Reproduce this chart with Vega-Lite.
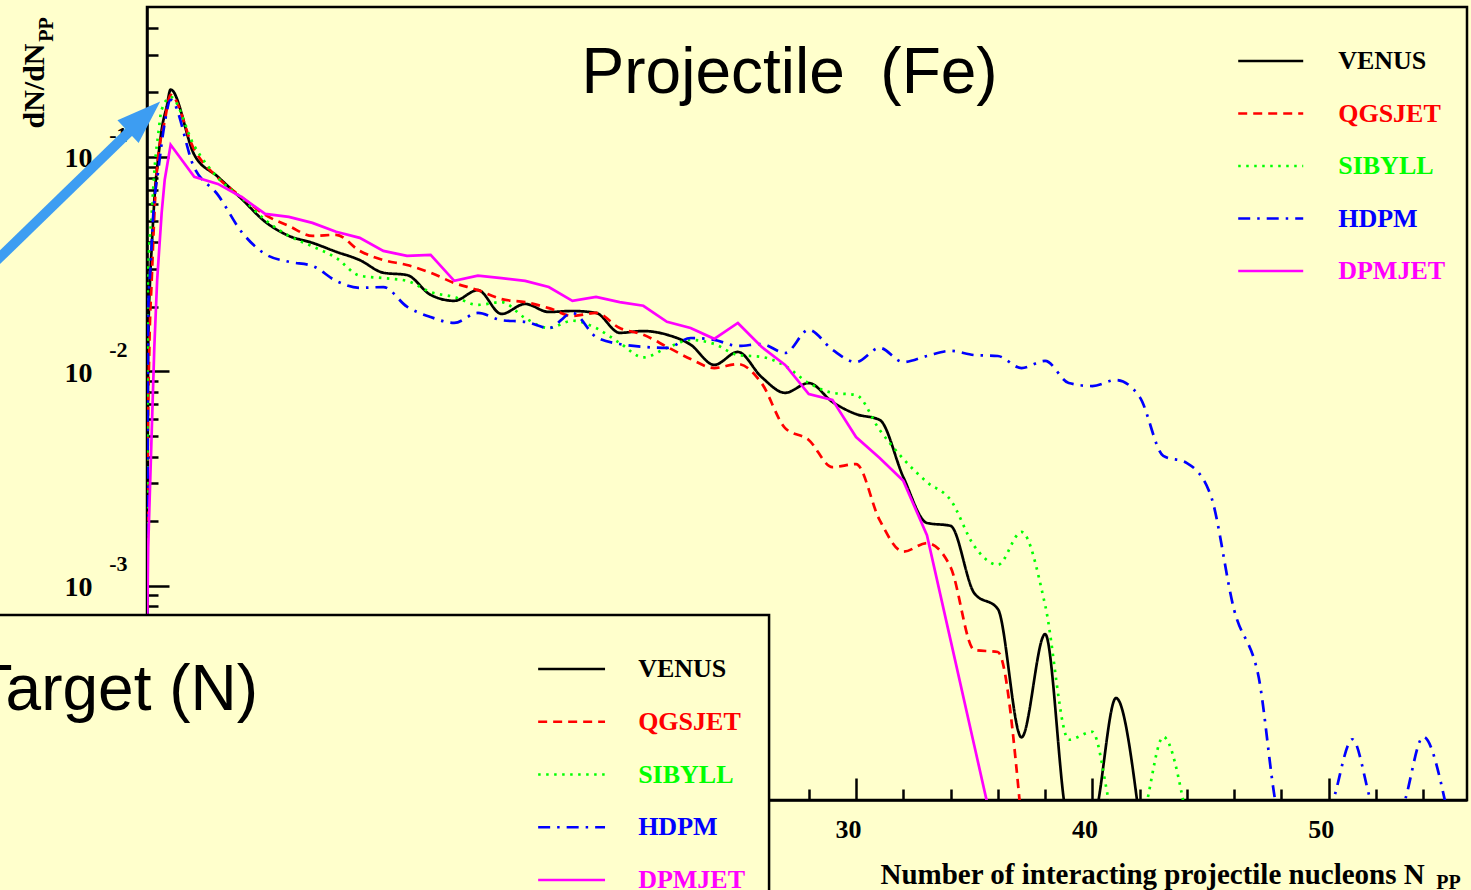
{
  "$schema": "https://vega.github.io/schema/vega-lite/v6.json",
  "width": 1320,
  "height": 793,
  "autosize": {"type": "none"},
  "padding": {"left": 147, "top": 7, "right": 4, "bottom": 90},
  "background": "#FFFFCC",
  "config": {"view": {"stroke": "#000000", "strokeWidth": 2.5, "fill": "#FFFFCC"}, "axis": {"grid": false}},
  "datasets": {
    "curves": [
      {"model":"VENUS","N":0,"value":0.00008},{"model":"VENUS","N":0.05,"value":0.013},{"model":"VENUS","N":0.13,"value":0.0267},{"model":"VENUS","N":0.2,"value":0.038},{"model":"VENUS","N":0.34,"value":0.0702},{"model":"VENUS","N":0.48,"value":0.1},{"model":"VENUS","N":0.62,"value":0.1337},{"model":"VENUS","N":0.83,"value":0.171},{"model":"VENUS","N":1,"value":0.206},{"model":"VENUS","N":2,"value":0.1023},{"model":"VENUS","N":3,"value":0.0807},{"model":"VENUS","N":4,"value":0.0637},{"model":"VENUS","N":5,"value":0.0498},{"model":"VENUS","N":6,"value":0.0428},{"model":"VENUS","N":7,"value":0.0397},{"model":"VENUS","N":8,"value":0.0361},{"model":"VENUS","N":9,"value":0.033},{"model":"VENUS","N":10,"value":0.0288},{"model":"VENUS","N":11,"value":0.0281},{"model":"VENUS","N":12,"value":0.0227},{"model":"VENUS","N":13,"value":0.0213},{"model":"VENUS","N":14,"value":0.0239},{"model":"VENUS","N":15,"value":0.0185},{"model":"VENUS","N":16,"value":0.0206},{"model":"VENUS","N":17,"value":0.0189},{"model":"VENUS","N":18,"value":0.0191},{"model":"VENUS","N":19,"value":0.0187},{"model":"VENUS","N":20,"value":0.0151},{"model":"VENUS","N":21,"value":0.0154},{"model":"VENUS","N":22,"value":0.0148},{"model":"VENUS","N":23,"value":0.0133},{"model":"VENUS","N":24,"value":0.0107},{"model":"VENUS","N":25,"value":0.0123},{"model":"VENUS","N":26,"value":0.0094},{"model":"VENUS","N":27,"value":0.00793},{"model":"VENUS","N":28,"value":0.00881},{"model":"VENUS","N":29,"value":0.00719},{"model":"VENUS","N":30,"value":0.00631},{"model":"VENUS","N":31,"value":0.00593},{"model":"VENUS","N":32,"value":0.00321},{"model":"VENUS","N":33,"value":0.00196},{"model":"VENUS","N":34,"value":0.0019},{"model":"VENUS","N":35,"value":0.000923},{"model":"VENUS","N":36,"value":0.000778},{"model":"VENUS","N":37,"value":0.000196},{"model":"VENUS","N":38,"value":0.000594},{"model":"VENUS","N":39,"value":0.00008},{"model":"VENUS","N":40,"value":0.00008},{"model":"VENUS","N":41,"value":0.000299},{"model":"VENUS","N":42,"value":0.00008},
      {"model":"QGSJET","N":0,"value":0.00008},{"model":"QGSJET","N":0.02,"value":0.00311},{"model":"QGSJET","N":0.1,"value":0.013},{"model":"QGSJET","N":0.2,"value":0.0267},{"model":"QGSJET","N":0.41,"value":0.0841},{"model":"QGSJET","N":0.76,"value":0.149},{"model":"QGSJET","N":1,"value":0.1945},{"model":"QGSJET","N":2,"value":0.108},{"model":"QGSJET","N":3,"value":0.0798},{"model":"QGSJET","N":4,"value":0.065},{"model":"QGSJET","N":5,"value":0.0536},{"model":"QGSJET","N":6,"value":0.0476},{"model":"QGSJET","N":7,"value":0.0428},{"model":"QGSJET","N":8,"value":0.0433},{"model":"QGSJET","N":9,"value":0.0364},{"model":"QGSJET","N":10,"value":0.033},{"model":"QGSJET","N":11,"value":0.0313},{"model":"QGSJET","N":12,"value":0.0288},{"model":"QGSJET","N":13,"value":0.0258},{"model":"QGSJET","N":14,"value":0.0239},{"model":"QGSJET","N":15,"value":0.0217},{"model":"QGSJET","N":16,"value":0.021},{"model":"QGSJET","N":17,"value":0.0197},{"model":"QGSJET","N":18,"value":0.0181},{"model":"QGSJET","N":19,"value":0.0187},{"model":"QGSJET","N":20,"value":0.0159},{"model":"QGSJET","N":21,"value":0.0148},{"model":"QGSJET","N":22,"value":0.013},{"model":"QGSJET","N":23,"value":0.0114},{"model":"QGSJET","N":24,"value":0.01035},{"model":"QGSJET","N":25,"value":0.0108},{"model":"QGSJET","N":26,"value":0.00881},{"model":"QGSJET","N":27,"value":0.00543},{"model":"QGSJET","N":28,"value":0.00478},{"model":"QGSJET","N":29,"value":0.00357},{"model":"QGSJET","N":30,"value":0.00369},{"model":"QGSJET","N":31,"value":0.00202},{"model":"QGSJET","N":32,"value":0.00144},{"model":"QGSJET","N":33,"value":0.00158},{"model":"QGSJET","N":34,"value":0.00122},{"model":"QGSJET","N":35,"value":0.000501},{"model":"QGSJET","N":36,"value":0.00049},{"model":"QGSJET","N":37,"value":0.00008},
      {"model":"SIBYLL","N":0,"value":0.00008},{"model":"SIBYLL","N":0.04,"value":0.0267},{"model":"SIBYLL","N":0.2,"value":0.0548},{"model":"SIBYLL","N":0.34,"value":0.0937},{"model":"SIBYLL","N":0.48,"value":0.129},{"model":"SIBYLL","N":0.62,"value":0.166},{"model":"SIBYLL","N":1,"value":0.19},{"model":"SIBYLL","N":2,"value":0.1125},{"model":"SIBYLL","N":3,"value":0.0798},{"model":"SIBYLL","N":4,"value":0.0644},{"model":"SIBYLL","N":5,"value":0.0508},{"model":"SIBYLL","N":6,"value":0.0428},{"model":"SIBYLL","N":7,"value":0.0382},{"model":"SIBYLL","N":8,"value":0.0338},{"model":"SIBYLL","N":9,"value":0.0279},{"model":"SIBYLL","N":10,"value":0.0272},{"model":"SIBYLL","N":11,"value":0.0264},{"model":"SIBYLL","N":12,"value":0.0234},{"model":"SIBYLL","N":13,"value":0.0222},{"model":"SIBYLL","N":14,"value":0.0204},{"model":"SIBYLL","N":15,"value":0.021},{"model":"SIBYLL","N":16,"value":0.0177},{"model":"SIBYLL","N":17,"value":0.0159},{"model":"SIBYLL","N":18,"value":0.0172},{"model":"SIBYLL","N":19,"value":0.0159},{"model":"SIBYLL","N":20,"value":0.01355},{"model":"SIBYLL","N":21,"value":0.0116},{"model":"SIBYLL","N":22,"value":0.01285},{"model":"SIBYLL","N":23,"value":0.014},{"model":"SIBYLL","N":24,"value":0.0134},{"model":"SIBYLL","N":25,"value":0.0119},{"model":"SIBYLL","N":26,"value":0.01167},{"model":"SIBYLL","N":27,"value":0.01059},{"model":"SIBYLL","N":28,"value":0.00881},{"model":"SIBYLL","N":29,"value":0.00793},{"model":"SIBYLL","N":30,"value":0.00775},{"model":"SIBYLL","N":31,"value":0.00532},{"model":"SIBYLL","N":32,"value":0.0039},{"model":"SIBYLL","N":33,"value":0.00304},{"model":"SIBYLL","N":34,"value":0.00251},{"model":"SIBYLL","N":35,"value":0.00153},{"model":"SIBYLL","N":36,"value":0.00125},{"model":"SIBYLL","N":37,"value":0.00178},{"model":"SIBYLL","N":38,"value":0.000813},{"model":"SIBYLL","N":39,"value":0.000191},{"model":"SIBYLL","N":40,"value":0.000208},{"model":"SIBYLL","N":41,"value":0.00008},{"model":"SIBYLL","N":42,"value":0.00008},{"model":"SIBYLL","N":43,"value":0.000197},{"model":"SIBYLL","N":44,"value":0.00008},
      {"model":"HDPM","N":0,"value":0.00008},{"model":"HDPM","N":0.05,"value":0.0193},{"model":"HDPM","N":0.15,"value":0.0307},{"model":"HDPM","N":0.27,"value":0.0548},{"model":"HDPM","N":0.48,"value":0.0869},{"model":"HDPM","N":0.75,"value":0.144},{"model":"HDPM","N":1,"value":0.1845},{"model":"HDPM","N":2,"value":0.0889},{"model":"HDPM","N":3,"value":0.0665},{"model":"HDPM","N":4,"value":0.0447},{"model":"HDPM","N":5,"value":0.0352},{"model":"HDPM","N":6,"value":0.0324},{"model":"HDPM","N":7,"value":0.031},{"model":"HDPM","N":8,"value":0.0264},{"model":"HDPM","N":9,"value":0.0245},{"model":"HDPM","N":10,"value":0.0247},{"model":"HDPM","N":11,"value":0.02},{"model":"HDPM","N":12,"value":0.0179},{"model":"HDPM","N":13,"value":0.0168},{"model":"HDPM","N":14,"value":0.0187},{"model":"HDPM","N":15,"value":0.0173},{"model":"HDPM","N":16,"value":0.017},{"model":"HDPM","N":17,"value":0.0159},{"model":"HDPM","N":18,"value":0.0187},{"model":"HDPM","N":19,"value":0.01445},{"model":"HDPM","N":20,"value":0.0134},{"model":"HDPM","N":21,"value":0.013},{"model":"HDPM","N":22,"value":0.01285},{"model":"HDPM","N":23,"value":0.01429},{"model":"HDPM","N":24,"value":0.014},{"model":"HDPM","N":25,"value":0.01312},{"model":"HDPM","N":26,"value":0.0134},{"model":"HDPM","N":27,"value":0.01216},{"model":"HDPM","N":28,"value":0.0156},{"model":"HDPM","N":29,"value":0.0126},{"model":"HDPM","N":30,"value":0.01104},{"model":"HDPM","N":31,"value":0.01285},{"model":"HDPM","N":32,"value":0.01104},{"model":"HDPM","N":33,"value":0.01178},{"model":"HDPM","N":34,"value":0.01245},{"model":"HDPM","N":35,"value":0.0119},{"model":"HDPM","N":36,"value":0.01178},{"model":"HDPM","N":37,"value":0.01035},{"model":"HDPM","N":38,"value":0.01117},{"model":"HDPM","N":39,"value":0.00881},{"model":"HDPM","N":40,"value":0.00853},{"model":"HDPM","N":41,"value":0.0091},{"model":"HDPM","N":42,"value":0.00759},{"model":"HDPM","N":43,"value":0.00403},{"model":"HDPM","N":44,"value":0.00373},{"model":"HDPM","N":45,"value":0.00265},{"model":"HDPM","N":46,"value":0.000769},{"model":"HDPM","N":47,"value":0.000391},{"model":"HDPM","N":48,"value":0.00008},{"model":"HDPM","N":49,"value":0.00008},{"model":"HDPM","N":50,"value":0.00009},{"model":"HDPM","N":51,"value":0.000192},{"model":"HDPM","N":52,"value":0.00009},{"model":"HDPM","N":53,"value":0.00009},{"model":"HDPM","N":54,"value":0.000197},{"model":"HDPM","N":55,"value":0.00009},
      {"model":"DPMJET","N":0,"value":0.000557},{"model":"DPMJET","N":0.05,"value":0.00151},{"model":"DPMJET","N":0.18,"value":0.00444},{"model":"DPMJET","N":0.31,"value":0.013},{"model":"DPMJET","N":0.43,"value":0.0267},{"model":"DPMJET","N":0.62,"value":0.0548},{"model":"DPMJET","N":0.75,"value":0.0782},{"model":"DPMJET","N":1,"value":0.1138},{"model":"DPMJET","N":2,"value":0.0807},{"model":"DPMJET","N":3,"value":0.0748},{"model":"DPMJET","N":4,"value":0.065},{"model":"DPMJET","N":5,"value":0.0542},{"model":"DPMJET","N":6,"value":0.0525},{"model":"DPMJET","N":7,"value":0.0492},{"model":"DPMJET","N":8,"value":0.0447},{"model":"DPMJET","N":9,"value":0.0419},{"model":"DPMJET","N":10,"value":0.0364},{"model":"DPMJET","N":11,"value":0.0345},{"model":"DPMJET","N":12,"value":0.0349},{"model":"DPMJET","N":13,"value":0.0264},{"model":"DPMJET","N":14,"value":0.0279},{"model":"DPMJET","N":15,"value":0.0272},{"model":"DPMJET","N":16,"value":0.0264},{"model":"DPMJET","N":17,"value":0.0247},{"model":"DPMJET","N":18,"value":0.0213},{"model":"DPMJET","N":19,"value":0.0222},{"model":"DPMJET","N":20,"value":0.021},{"model":"DPMJET","N":21,"value":0.0202},{"model":"DPMJET","N":22,"value":0.017},{"model":"DPMJET","N":23,"value":0.0159},{"model":"DPMJET","N":24,"value":0.01416},{"model":"DPMJET","N":25,"value":0.0168},{"model":"DPMJET","N":26,"value":0.013},{"model":"DPMJET","N":27,"value":0.0107},{"model":"DPMJET","N":28,"value":0.00783},{"model":"DPMJET","N":29,"value":0.00735},{"model":"DPMJET","N":30,"value":0.00493},{"model":"DPMJET","N":31,"value":0.00394},{"model":"DPMJET","N":32,"value":0.00308},{"model":"DPMJET","N":33,"value":0.00172},{"model":"DPMJET","N":34,"value":0.000557},{"model":"DPMJET","N":35,"value":0.00018},{"model":"DPMJET","N":36,"value":0.0000583}
    ],
    "legend": [{"model":"VENUS"},{"model":"QGSJET"},{"model":"SIBYLL"},{"model":"HDPM"},{"model":"DPMJET"}]
  },
  "layer": [
    {
      "data": {"name": "curves"},
      "transform": [{"filter": "datum.model != 'DPMJET'"}],
      "mark": {"type": "line", "interpolate": "monotone", "clip": true, "strokeWidth": 2.7},
      "encoding": {
        "x": {"field": "N", "type": "quantitative", "scale": {"domain": [0, 55.85], "nice": false, "zero": false},
          "axis": {"orient": "bottom", "values": [0, 10, 20, 30, 40, 50], "tickSize": -22, "tickWidth": 2.5, "tickColor": "#000000", "domainColor": "#000000", "domainWidth": 2.5, "labelFont": "Liberation Serif", "labelFontWeight": "bold", "labelFontSize": 26, "labelColor": "#000000", "labelPadding": 51, "labelOffset": -8, "labelAlign": "center", "labelBaseline": "middle", "labelFlush": false, "labelOverlap": false, "title": "Number of interacting projectile nucleons N", "titleFont": "Liberation Serif", "titleFontWeight": "bold", "titleFontSize": 29, "titleColor": "#000000", "titleX": 733, "titleY": 83, "titleAlign": "left", "titleBaseline": "alphabetic", "grid": false}},
        "y": {"field": "value", "type": "quantitative", "scale": {"type": "log", "domain": [0.0001, 0.5], "nice": false},
          "axis": {"orient": "left", "values": [0.001, 0.01, 0.1], "labelExpr": "'10'", "tickSize": -22, "tickWidth": 2.5, "tickColor": "#000000", "domainColor": "#000000", "domainWidth": 2.5, "labelFont": "Liberation Serif", "labelFontWeight": "bold", "labelFontSize": 28, "labelColor": "#000000", "labelPadding": 77, "labelOffset": 2, "labelAlign": "right", "labelBaseline": "middle", "labelOverlap": false, "labelFlush": false, "title": "dN/dN", "titleFont": "Liberation Serif", "titleFontWeight": "bold", "titleFontSize": 30, "titleColor": "#000000", "titleAngle": 270, "titleX": -104, "titleY": 121, "titleAlign": "left", "titleBaseline": "alphabetic", "grid": false}},
        "color": {"field": "model", "type": "nominal", "scale": {"domain": ["VENUS", "QGSJET", "SIBYLL", "HDPM", "DPMJET"], "range": ["#000000", "#FF0000", "#00FF00", "#0000FF", "#FF00FF"]}, "legend": null},
        "strokeDash": {"field": "model", "type": "nominal", "scale": {"domain": ["VENUS", "QGSJET", "SIBYLL", "HDPM", "DPMJET"], "range": [[1, 0], [9, 6], [2.5, 5.5], [12, 7, 2.5, 7], [1, 0]]}, "legend": null}
      }
    },
    {
      "data": {"name": "curves"},
      "transform": [{"filter": "datum.model == 'DPMJET'"}],
      "mark": {"type": "line", "interpolate": "linear", "clip": true, "strokeWidth": 2.7},
      "encoding": {
        "x": {"field": "N", "type": "quantitative", "scale": {"domain": [0, 55.85], "nice": false, "zero": false},
          "axis": {"orient": "bottom", "values": [2, 4, 6, 8, 12, 14, 16, 18, 22, 24, 26, 28, 32, 34, 36, 38, 42, 44, 46, 48, 52, 54], "tickSize": -11, "tickWidth": 2.5, "tickColor": "#000000", "labels": false, "domain": false, "title": null, "grid": false}},
        "y": {"field": "value", "type": "quantitative", "scale": {"type": "log", "domain": [0.0001, 0.5], "nice": false},
          "axis": {"orient": "left", "values": [0.0002, 0.0003, 0.0004, 0.0005, 0.0006, 0.0007, 0.0008, 0.0009, 0.002, 0.003, 0.004, 0.005, 0.006, 0.007, 0.008, 0.009, 0.02, 0.03, 0.04, 0.05, 0.06, 0.07, 0.08, 0.09, 0.2, 0.3, 0.4], "tickSize": -11, "tickWidth": 2.5, "tickColor": "#000000", "labels": false, "domain": false, "title": null, "grid": false}},
        "color": {"field": "model", "type": "nominal", "scale": {"domain": ["VENUS", "QGSJET", "SIBYLL", "HDPM", "DPMJET"], "range": ["#000000", "#FF0000", "#00FF00", "#0000FF", "#FF00FF"]}, "legend": null}
      }
    },
    {
      "data": {"values": [{}]},
      "mark": {"type": "rect", "fill": "#FFFFCC", "stroke": "#000000", "strokeWidth": 2.5, "clip": false},
      "encoding": {
        "x": {"datum": -6.5, "scale": {"domain": [0, 55.85], "nice": false, "zero": false}, "axis": null},
        "x2": {"datum": 26.32},
        "y": {"datum": 0.000729, "scale": {"type": "log", "domain": [0.0001, 0.5], "nice": false}, "axis": null},
        "y2": {"datum": 0.00003}
      }
    },
    {
      "data": {"name": "legend"},
      "mark": {"type": "rule", "strokeWidth": 2.7},
      "encoding": {
        "x": {"datum": 46.17, "scale": {"domain": [0, 55.85], "nice": false, "zero": false}, "axis": null},
        "x2": {"datum": 48.92},
        "y": {"field": "model", "type": "nominal", "scale": {"type": "point", "domain": ["VENUS", "QGSJET", "SIBYLL", "HDPM", "DPMJET"], "range": [54, 264], "padding": 0}, "axis": null},
        "color": {"field": "model", "type": "nominal", "scale": {"domain": ["VENUS", "QGSJET", "SIBYLL", "HDPM", "DPMJET"], "range": ["#000000", "#FF0000", "#00FF00", "#0000FF", "#FF00FF"]}, "legend": null},
        "strokeDash": {"field": "model", "type": "nominal", "scale": {"domain": ["VENUS", "QGSJET", "SIBYLL", "HDPM", "DPMJET"], "range": [[1, 0], [9, 6], [2.5, 5.5], [12, 7, 2.5, 7], [1, 0]]}, "legend": null}
      }
    },
    {
      "data": {"name": "legend"},
      "mark": {"type": "text", "align": "left", "baseline": "middle", "font": "Liberation Serif", "fontWeight": "bold", "fontSize": 26},
      "encoding": {
        "x": {"datum": 50.4, "scale": {"domain": [0, 55.85], "nice": false, "zero": false}, "axis": null},
        "y": {"field": "model", "type": "nominal", "scale": {"type": "point", "domain": ["VENUS", "QGSJET", "SIBYLL", "HDPM", "DPMJET"], "range": [54, 264], "padding": 0}, "axis": null},
        "text": {"field": "model"},
        "color": {"field": "model", "type": "nominal", "scale": {"domain": ["VENUS", "QGSJET", "SIBYLL", "HDPM", "DPMJET"], "range": ["#000000", "#FF0000", "#00FF00", "#0000FF", "#FF00FF"]}, "legend": null}
      }
    },
    {
      "data": {"name": "legend"},
      "mark": {"type": "rule", "strokeWidth": 2.7},
      "encoding": {
        "x": {"datum": 16.55, "scale": {"domain": [0, 55.85], "nice": false, "zero": false}, "axis": null},
        "x2": {"datum": 19.38},
        "y": {"field": "model", "type": "nominal", "scale": {"type": "point", "domain": ["VENUS", "QGSJET", "SIBYLL", "HDPM", "DPMJET"], "range": [662, 873], "padding": 0}, "axis": null},
        "color": {"field": "model", "type": "nominal", "scale": {"domain": ["VENUS", "QGSJET", "SIBYLL", "HDPM", "DPMJET"], "range": ["#000000", "#FF0000", "#00FF00", "#0000FF", "#FF00FF"]}, "legend": null},
        "strokeDash": {"field": "model", "type": "nominal", "scale": {"domain": ["VENUS", "QGSJET", "SIBYLL", "HDPM", "DPMJET"], "range": [[1, 0], [9, 6], [2.5, 5.5], [12, 7, 2.5, 7], [1, 0]]}, "legend": null}
      }
    },
    {
      "data": {"name": "legend"},
      "mark": {"type": "text", "align": "left", "baseline": "middle", "font": "Liberation Serif", "fontWeight": "bold", "fontSize": 26},
      "encoding": {
        "x": {"datum": 20.78, "scale": {"domain": [0, 55.85], "nice": false, "zero": false}, "axis": null},
        "y": {"field": "model", "type": "nominal", "scale": {"type": "point", "domain": ["VENUS", "QGSJET", "SIBYLL", "HDPM", "DPMJET"], "range": [662, 873], "padding": 0}, "axis": null},
        "text": {"field": "model"},
        "color": {"field": "model", "type": "nominal", "scale": {"domain": ["VENUS", "QGSJET", "SIBYLL", "HDPM", "DPMJET"], "range": ["#000000", "#FF0000", "#00FF00", "#0000FF", "#FF00FF"]}, "legend": null}
      }
    },
    {
      "data": {"values": [{}]},
      "mark": {"type": "text", "align": "center", "baseline": "alphabetic", "font": "Liberation Sans", "fontSize": 64, "color": "#000000"},
      "encoding": {
        "x": {"datum": 27.19, "scale": {"domain": [0, 55.85], "nice": false, "zero": false}, "axis": null},
        "y": {"datum": 0.1989, "scale": {"type": "log", "domain": [0.0001, 0.5], "nice": false},
          "axis": {"orient": "left", "values": [0.001, 0.01, 0.1], "labelExpr": "datum.value < 0.005 ? '-3' : (datum.value < 0.05 ? '-2' : '-1')", "ticks": false, "domain": false, "labelPadding": 20, "labelOffset": -22, "labelFont": "Liberation Serif", "labelFontWeight": "bold", "labelFontSize": 22, "labelColor": "#000000", "labelAlign": "right", "labelBaseline": "middle", "labelOverlap": false, "labelFlush": false, "title": null, "grid": false}},
        "text": {"value": "Projectile\u00a0\u00a0(Fe)"}
      }
    },
    {
      "data": {"values": [{}]},
      "mark": {"type": "text", "align": "right", "baseline": "alphabetic", "font": "Liberation Sans", "fontSize": 64, "color": "#000000", "clip": false},
      "encoding": {
        "x": {"datum": 4.7, "scale": {"domain": [0, 55.85], "nice": false, "zero": false}, "axis": null},
        "y": {"datum": 0.000263, "scale": {"type": "log", "domain": [0.0001, 0.5], "nice": false}, "axis": null},
        "text": {"value": "Target (N)"}
      }
    },
    {
      "data": {"values": [{}]},
      "mark": {"type": "text", "align": "left", "baseline": "alphabetic", "font": "Liberation Serif", "fontWeight": "bold", "fontSize": 20, "color": "#000000"},
      "encoding": {
        "x": {"datum": 54.55, "scale": {"domain": [0, 55.85], "nice": false, "zero": false}, "axis": null},
        "y": {"datum": 0.0000384, "scale": {"type": "log", "domain": [0.0001, 0.5], "nice": false}, "axis": null},
        "text": {"value": "PP"}
      }
    },
    {
      "data": {"values": [{}]},
      "mark": {"type": "text", "align": "left", "baseline": "alphabetic", "angle": 270, "font": "Liberation Serif", "fontWeight": "bold", "fontSize": 20, "color": "#000000"},
      "encoding": {
        "x": {"datum": -3.98, "scale": {"domain": [0, 55.85], "nice": false, "zero": false}, "axis": null},
        "y": {"datum": 0.344, "scale": {"type": "log", "domain": [0.0001, 0.5], "nice": false}, "axis": null},
        "text": {"value": "PP"}
      }
    },
    {
      "data": {"values": [{}]},
      "mark": {"type": "rule", "color": "#3D9DF2", "strokeWidth": 10, "clip": false},
      "encoding": {
        "x": {"datum": -7, "scale": {"domain": [0, 55.85], "nice": false, "zero": false}, "axis": null},
        "y": {"datum": 0.0281, "scale": {"type": "log", "domain": [0.0001, 0.5], "nice": false}, "axis": null},
        "x2": {"datum": -0.72},
        "y2": {"datum": 0.132}
      }
    },
    {
      "data": {"values": [{}]},
      "mark": {"type": "point", "shape": "M0,-1L0.5,0.42L-0.5,0.42Z", "size": 3844, "angle": 47, "filled": true, "opacity": 1, "color": "#3D9DF2", "strokeWidth": 0, "clip": false},
      "encoding": {
        "x": {"datum": -0.4, "scale": {"domain": [0, 55.85], "nice": false, "zero": false}, "axis": null},
        "y": {"datum": 0.1443, "scale": {"type": "log", "domain": [0.0001, 0.5], "nice": false}, "axis": null}
      }
    }
  ],
  "resolve": {"scale": {"y": "independent"}, "axis": {"x": "independent", "y": "independent"}}
}
